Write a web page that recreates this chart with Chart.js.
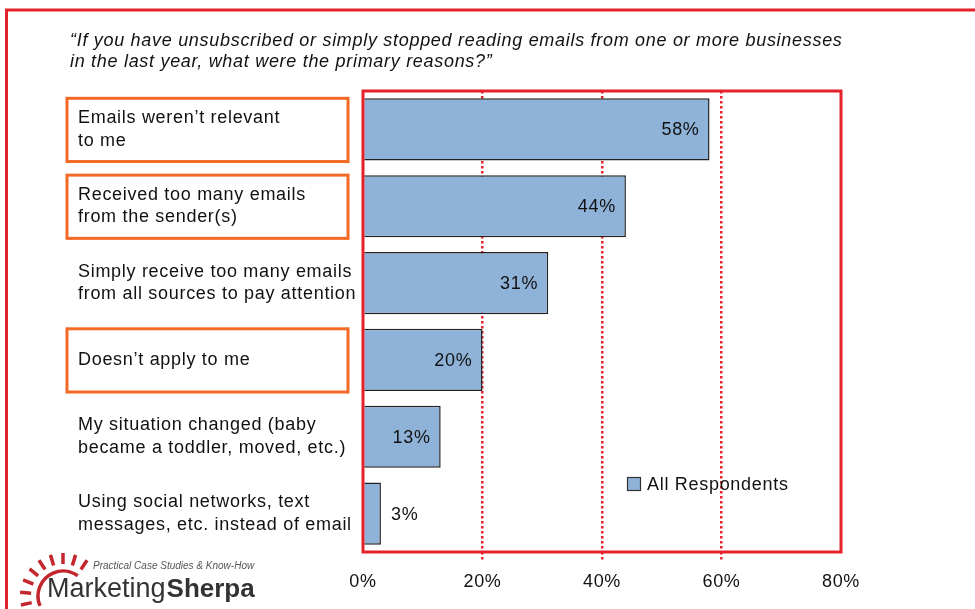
<!DOCTYPE html>
<html lang="en">
<head>
<meta charset="UTF-8">
<title>Reasons for unsubscribing</title>
<script src="https://cdn.jsdelivr.net/npm/chart.js"></script>
<style>
  html, body { margin: 0; padding: 0; background: #fff; }
  canvas { display: block; }
</style>
</head>
<body>
<canvas id="chart" width="975" height="609"></canvas>
<script>
const categories = [
  ['Emails weren\u2019t relevant', 'to me'],
  ['Received too many emails', 'from the sender(s)'],
  ['Simply receive too many emails', 'from all sources to pay attention'],
  ['Doesn\u2019t apply to me'],
  ['My situation changed (baby', 'became a toddler, moved, etc.)'],
  ['Using social networks, text', 'messages, etc. instead of email']
];
const allRespondents = [58, 44, 31, 20, 13, 3];
const xTicks = [0, 20, 40, 60, 80];
const highlighted = [0, 1, 3];
const titleLines = [
  '\u201cIf you have unsubscribed or simply stopped reading emails from one or more businesses',
  'in the last year, what were the primary reasons?\u201d'
];
const seriesName = 'All Respondents';

const RED = '#e3222b';
const ORANGE = '#f26a25';
const BAR = '#8fb3d8';
const FONT = '"Liberation Sans", Arial, sans-serif';

const decor = {
  id: 'decor',
  beforeDraw(chart) {
    chart.ctx.letterSpacing = '0.7px';
  },
  afterDatasetsDraw(chart) {
    const ctx = chart.ctx;
    const meta = chart.getDatasetMeta(0);
    ctx.save();
    ctx.font = '18px ' + FONT;
    ctx.fillStyle = '#111';
    ctx.textBaseline = 'middle';
    meta.data.forEach((bar, i) => {
      const v = allRespondents[i];
      if (v >= 10) {
        ctx.textAlign = 'right';
        ctx.fillText(v + '%', bar.x - 10, bar.y + 1);
      } else {
        ctx.textAlign = 'left';
        ctx.fillText(v + '%', bar.x + 10, bar.y + 1);
      }
    });
    ctx.restore();
  },
  afterDraw(chart) {
    const ctx = chart.ctx;
    const a = chart.chartArea;
    const meta = chart.getDatasetMeta(0);
    ctx.save();

    // outer frame (runs off the right and bottom edges)
    ctx.strokeStyle = RED;
    ctx.lineWidth = 3;
    ctx.strokeRect(6.5, 10, chart.width + 20, chart.height + 20);

    // plot box
    ctx.strokeRect(a.left, a.top, a.right - a.left, a.bottom - a.top);

    // highlighted category boxes
    ctx.strokeStyle = ORANGE;
    highlighted.forEach(i => {
      const bar = meta.data[i];
      const h = bar.height;
      ctx.strokeRect(67, bar.y - h / 2, 281, h + 1);
    });

    // question
    ctx.fillStyle = '#111';
    ctx.font = 'italic 18px ' + FONT;
    ctx.textAlign = 'left';
    ctx.textBaseline = 'alphabetic';
    titleLines.forEach((t, i) => ctx.fillText(t, 70, 46 + i * 21));

    // legend
    ctx.fillStyle = BAR;
    ctx.fillRect(627.5, 477.5, 13, 13);
    ctx.strokeStyle = '#333';
    ctx.lineWidth = 1.2;
    ctx.strokeRect(627.5, 477.5, 13, 13);
    ctx.fillStyle = '#111';
    ctx.font = '18px ' + FONT;
    ctx.textBaseline = 'middle';
    ctx.fillText(seriesName, 647, 485);

    // MarketingSherpa logo
    const cx = 63, cy = 596;
    ctx.strokeStyle = '#c3262d';
    ctx.lineWidth = 3.5;
    ctx.lineCap = 'butt';
    ctx.beginPath();
    ctx.arc(cx, cy, 25, Math.PI * 0.87, Math.PI * 1.7);
    ctx.stroke();
    [168, 185, 202, 219, 236, 253, 270, 287, 304].forEach(deg => {
      const r = deg * Math.PI / 180;
      ctx.beginPath();
      ctx.moveTo(cx + Math.cos(r) * 32, cy + Math.sin(r) * 32);
      ctx.lineTo(cx + Math.cos(r) * 43, cy + Math.sin(r) * 43);
      ctx.stroke();
    });
    ctx.letterSpacing = '0px';
    ctx.textBaseline = 'alphabetic';
    ctx.fillStyle = '#555';
    ctx.font = 'italic 10px ' + FONT;
    ctx.fillText('Practical Case Studies & Know-How', 93, 569);
    ctx.fillStyle = '#333';
    ctx.font = '27px ' + FONT;
    ctx.fillText('Marketing', 47, 597);
    const w = ctx.measureText('Marketing').width;
    ctx.font = 'bold 26px ' + FONT;
    ctx.fillText('Sherpa', 47 + w + 1, 597);

    ctx.restore();
  }
};

const gridColor = c => (c.tick && (c.tick.value === 0 || c.tick.value === 80)) ? 'rgba(0,0,0,0)' : RED;

new Chart(document.getElementById('chart'), {
  type: 'bar',
  data: {
    labels: categories,
    datasets: [{
      label: seriesName,
      data: allRespondents,
      backgroundColor: BAR,
      borderColor: '#222',
      borderWidth: 1.5,
      borderSkipped: 'start',
      barPercentage: 0.81,
      categoryPercentage: 1
    }]
  },
  options: {
    indexAxis: 'y',
    responsive: false,
    animation: false,
    layout: { padding: { top: 91, left: 78, right: 134, bottom: 0 } },
    plugins: {
      legend: { display: false },
      title: { display: false },
      tooltip: { enabled: false }
    },
    scales: {
      x: {
        min: 0,
        max: 80,
        afterBuildTicks: s => { s.ticks = xTicks.map(v => ({ value: v })); },
        afterFit: s => { s.height = 57; },
        grid: {
          color: gridColor,
          tickColor: gridColor,
          lineWidth: 2.5,
          tickWidth: 2.5,
          tickLength: 10,
          tickBorderDash: [2.5, 2.5]
        },
        border: { display: false, dash: [2.5, 2.5] },
        ticks: {
          padding: 9,
          color: '#111',
          font: { family: FONT, size: 18 },
          callback: v => v + '%'
        }
      },
      y: {
        afterFit: s => { s.width = 285; },
        grid: { display: false },
        border: { display: false },
        ticks: {
          crossAlign: 'far',
          color: '#111',
          font: { family: FONT, size: 18, lineHeight: 1.25 }
        }
      }
    }
  },
  plugins: [decor]
});
</script>
</body>
</html>
